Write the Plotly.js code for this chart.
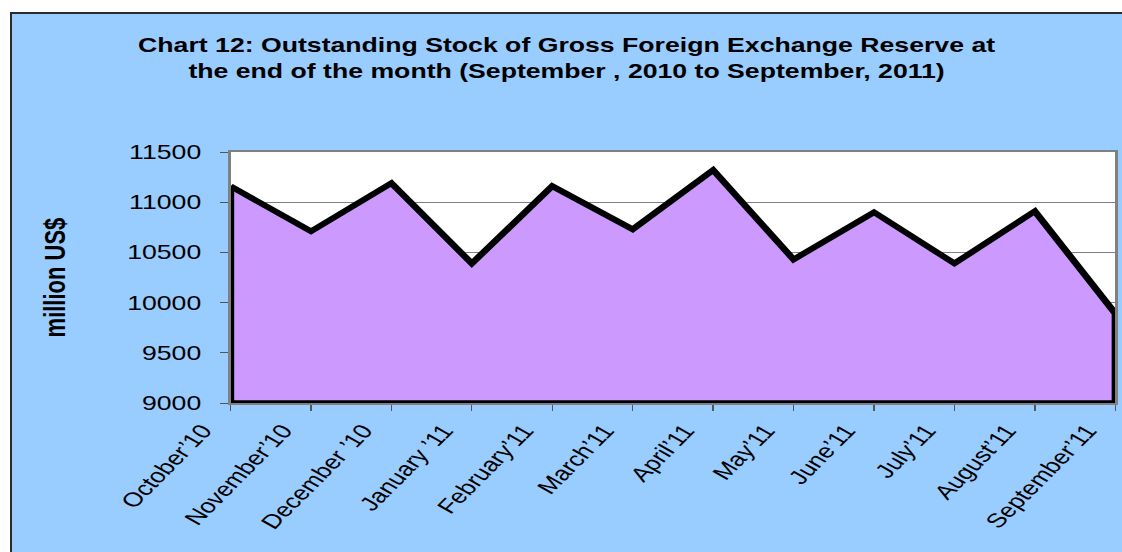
<!DOCTYPE html>
<html><head><meta charset="utf-8">
<script src="https://cdn.plot.ly/plotly-3.0.1.min.js"></script>
<style>
html,body{margin:0;padding:0;background:#fff;width:1122px;height:552px;overflow:hidden;}
#frame{position:absolute;left:10px;top:12px;width:1130px;height:560px;background:#99CCFF;border:2px solid #2a2a2a;box-sizing:border-box;}
#chart{position:absolute;left:0;top:0;width:842px;height:552px;transform:scaleX(1.3325);transform-origin:0 0;}
</style></head><body>
<div id="frame"></div><div id="chart"></div>
<script>
const months = ["October\u201910","November\u201910","December \u201910","January \u201911","February\u201911","March\u201911","April\u201911","May\u201911","June\u201911","July\u201911","August\u201911","September\u201911"];
const reserves = [11160,10710,11190,10390,11160,10730,11320,10430,10900,10390,10910,9890];
const yTicks = [9000,9500,10000,10500,11000,11500];
const yMin = 9000, yMax = 11500;

const FONT = "Liberation Sans, Arial, sans-serif";
const n = months.length;
const xs = months.concat([months[n-1], months[0], months[0]]);
const ys = reserves.concat([yMin, yMin, reserves[0]]);

const trace = {
  type: 'scatter', mode: 'lines', x: xs, y: ys,
  fill: 'toself', fillcolor: '#CC99FF',
  line: {color: '#000000', width: 5.5},
  hoverinfo: 'skip', showlegend: false
};

const layout = {
  width: 842, height: 552,
  margin: {l: 172.6, r: 5.2, t: 152, b: 149, pad: 0},
  paper_bgcolor: 'rgba(0,0,0,0)', plot_bgcolor: '#ffffff',
  font: {family: FONT, color: '#000000'},
  title: {
    text: 'Chart 12: Outstanding Stock of Gross Foreign Exchange Reserve at<br>the end of the month (September , 2010 to September, 2011)',
    font: {family: FONT, size: 20, weight: 'bold', color: '#000000'},
    x: 0.505, xanchor: 'center', xref: 'container',
    y: 0.905, yanchor: 'top', yref: 'container'
  },
  xaxis: {
    type: 'category', range: [0, n-1], showgrid: false, zeroline: false,
    ticks: 'outside', ticklen: 6, tickcolor: '#555555', tickwidth: 1,
    tickangle: -53, tickfont: {family: FONT, size: 20, color: '#000000'},
    ticklabelshift: -21, ticklabelstandoff: 0,
    showline: true, mirror: true, linecolor: '#808080', linewidth: 2,
    fixedrange: true
  },
  yaxis: {
    range: [yMin, yMax], tickvals: yTicks, ticktext: yTicks.map(String),
    showgrid: true, gridcolor: '#808080', gridwidth: 1, zeroline: false,
    ticks: 'outside', ticklen: 6, tickcolor: '#555555', tickwidth: 1,
    tickfont: {family: FONT, size: 20, color: '#000000'},
    ticklabelstandoff: 10,
    showline: true, mirror: true, linecolor: '#808080', linewidth: 2,
    fixedrange: true
  },
  annotations: [{
    text: 'million US$', textangle: -90, showarrow: false,
    xref: 'paper', yref: 'paper', x: -0.1989, y: 0.5,
    xanchor: 'center', yanchor: 'middle',
    font: {family: FONT, size: 22, weight: 'bold', color: '#000000'}
  }]
};

Plotly.newPlot('chart', [trace], layout, {staticPlot: true, displayModeBar: false});
</script>
</body></html>
